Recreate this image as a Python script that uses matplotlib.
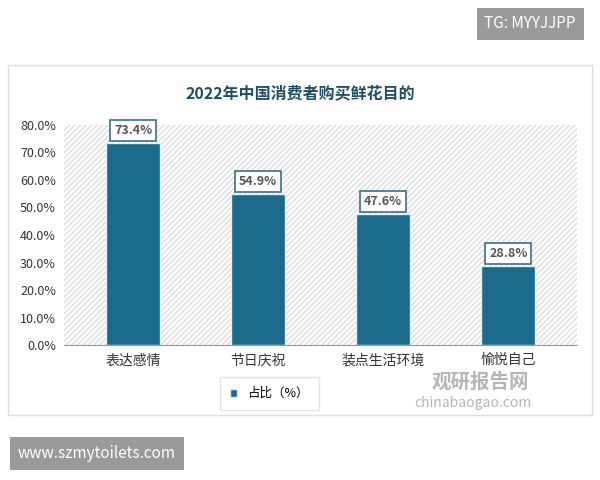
import matplotlib.pyplot as plt
from matplotlib.patches import Rectangle

plt.rcParams['font.family'] = ['Noto Sans CJK SC', 'DejaVu Sans']
plt.rcParams['hatch.color'] = '#d8d8d8'

categories = ['表达感情', '节日庆祝', '装点生活环境', '愉悦自己']
values = [73.4, 54.9, 47.6, 28.8]
labels = ['73.4%', '54.9%', '47.6%', '28.8%']
yticks = [0, 10, 20, 30, 40, 50, 60, 70, 80]

fig = plt.figure(figsize=(6, 4.8), dpi=100)
fig.patch.set_facecolor('white')

# card frame
fig.patches.append(Rectangle((0.013, 0.135), 0.974, 0.73, transform=fig.transFigure,
                             facecolor='white', edgecolor='#e0e0e0', lw=1, zorder=-10))

ax = fig.add_axes([0.107, 0.281, 0.855, 0.459])
ax.set_facecolor('none')
ax.add_patch(Rectangle((0, 0), 1, 1, transform=ax.transAxes, facecolor='white',
                       hatch='//////', edgecolor='#dcdcdc', lw=0, zorder=0))
x = range(len(categories))
ax.bar(x, values, width=0.43, color='#1c6a8c', edgecolor='#dff0f3', lw=1, zorder=2, label='占比（%）')
for i, v in enumerate(values):
    ax.text(i, v + 4.5, labels[i], ha='center', va='center', fontsize=9, color='#555555',
            fontweight='bold',
            bbox=dict(boxstyle='square,pad=0.3', fc='white', ec='#3d6f80', lw=1.2), zorder=3)
ax.set_ylim(0, 80)
ax.set_xlim(-0.55, 3.55)
ax.set_yticks(yticks)
ax.set_yticklabels([f'{t:.1f}%' for t in yticks], fontsize=9, color='#333333')
ax.set_xticks(list(x))
ax.set_xticklabels(categories, fontsize=10, color='#333333')
ax.tick_params(length=0, pad=6)
for s in ['top', 'right', 'left']:
    ax.spines[s].set_visible(False)
ax.spines['bottom'].set_color('#999999')

fig.text(0.5, 0.805, '2022年中国消费者购买鲜花目的', ha='center', va='center',
         fontsize=11.5, fontweight='bold', color='#1f4e63')

ax.legend(loc='center', bbox_to_anchor=(0.4, -0.22), fontsize=9, frameon=True,
          edgecolor='#dddddd', fancybox=False, handlelength=0.6, handleheight=0.6,
          borderpad=0.8, prop={'size': 9})

fig.text(0.72, 0.205, '观研报告网', fontsize=14, fontweight='bold', color='#b5b5b5', va='center')
fig.text(0.69, 0.16, 'chinabaogao.com', fontsize=10, color='#b5b5b5', va='center')

fig.text(0.96, 0.95, 'TG: MYYJJPP', ha='right', va='center', fontsize=11, color='white',
         bbox=dict(boxstyle='square,pad=0.5', fc='#9a9a9a', ec='none'))
fig.text(0.03, 0.055, 'www.szmytoilets.com', ha='left', va='center', fontsize=11, color='white',
         bbox=dict(boxstyle='square,pad=0.5', fc='#9a9a9a', ec='none'))

fig.savefig('out.png', dpi=100)
